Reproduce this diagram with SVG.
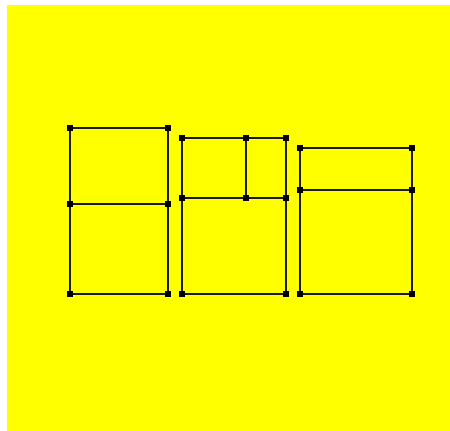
<svg xmlns="http://www.w3.org/2000/svg" width="450" height="431" viewBox="0 0 450 431">
<style>
.e{stroke:#1a1a1a;stroke-width:2;fill:none}
.n{fill:#000}
</style>
<defs>
<rect id="m" x="-3" y="-3" width="6" height="6" class="n"/>
</defs>
<rect x="0" y="0" width="450" height="431" fill="#fff"/>
<rect x="7" y="5" width="443" height="426" fill="#ffff00"/>
<g id="connectors">
<path class="e" d="M70,128H168V294H70ZM70,204H168"/>
<path class="e" d="M182,138H286V294H182ZM182,198H286M246,138V198"/>
<path class="e" d="M300,148H412V294H300ZM300,190H412"/>
</g>
<g id="node-a1"><use href="#m" x="70" y="128"/></g>
<g id="node-a2"><use href="#m" x="168" y="128"/></g>
<g id="node-a3"><use href="#m" x="70" y="204"/></g>
<g id="node-a4"><use href="#m" x="168" y="204"/></g>
<g id="node-a5"><use href="#m" x="70" y="294"/></g>
<g id="node-a6"><use href="#m" x="168" y="294"/></g>
<g id="node-b1"><use href="#m" x="182" y="138"/></g>
<g id="node-b2"><use href="#m" x="246" y="138"/></g>
<g id="node-b3"><use href="#m" x="286" y="138"/></g>
<g id="node-b4"><use href="#m" x="182" y="198"/></g>
<g id="node-b5"><use href="#m" x="246" y="198"/></g>
<g id="node-b6"><use href="#m" x="286" y="198"/></g>
<g id="node-b7"><use href="#m" x="182" y="294"/></g>
<g id="node-b8"><use href="#m" x="286" y="294"/></g>
<g id="node-c1"><use href="#m" x="300" y="148"/></g>
<g id="node-c2"><use href="#m" x="412" y="148"/></g>
<g id="node-c3"><use href="#m" x="300" y="190"/></g>
<g id="node-c4"><use href="#m" x="412" y="190"/></g>
<g id="node-c5"><use href="#m" x="300" y="294"/></g>
<g id="node-c6"><use href="#m" x="412" y="294"/></g>
</svg>
